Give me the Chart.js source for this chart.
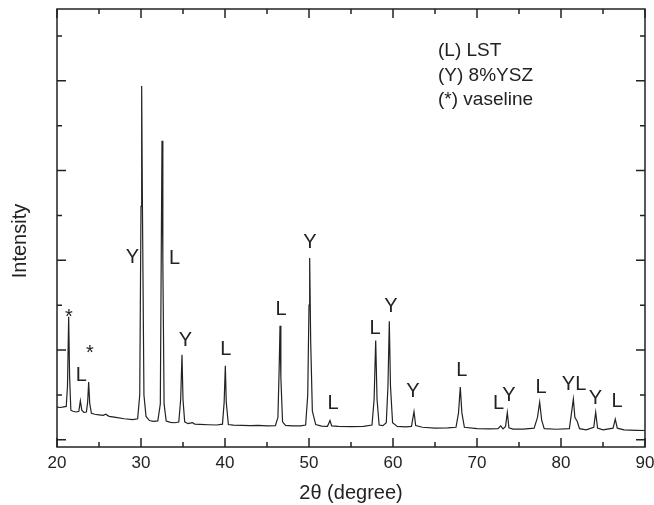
<!DOCTYPE html>
<html>
<head>
<meta charset="utf-8">
<script src="https://cdn.jsdelivr.net/npm/chart.js@4.4.1/dist/chart.umd.min.js"></script>
<style>
  html, body { margin: 0; padding: 0; background: #fff; }
  .xrd-chart { position: relative; width: 654px; height: 505px; }
</style>
</head>
<body>
<div class="xrd-chart"><canvas id="xrd"></canvas></div>
<script>
// XRD pattern, 2theta in degrees, intensity in arbitrary counts
const twoTheta = [
  20.0, 20.4, 20.8, 21.1, 21.25, 21.39, 21.5, 21.65, 21.9, 22.3, 22.6, 22.78, 22.95, 23.2, 23.5, 23.65, 23.77, 23.9,
  24.1, 24.5, 25.0, 25.5, 25.8, 26.2, 27.0, 28.0, 29.0, 29.6, 29.85, 30.0, 30.08, 30.17, 30.35, 30.6, 31.0, 31.5,
  32.0, 32.3, 32.42, 32.5, 32.6, 32.75, 33.0, 33.5, 34.0, 34.5, 34.72, 34.88, 35.0, 35.2, 35.6, 36.1, 36.4, 37.0,
  38.0, 39.0, 39.7, 39.9, 40.04, 40.15, 40.4, 41.0, 42.0, 43.0, 44.0, 45.0, 46.0, 46.3, 46.45, 46.55, 46.65, 46.85,
  47.2, 48.0, 49.0, 49.6, 49.85, 50.0, 50.08, 50.2, 50.4, 50.8, 51.5, 52.2, 52.5, 52.7, 53.5, 55.0, 56.5, 57.5,
  57.75, 57.94, 58.1, 58.35, 58.8, 59.2, 59.4, 59.56, 59.7, 59.95, 60.5, 61.5, 62.2, 62.5, 62.7, 63.5, 65.0, 66.5,
  67.5, 67.8, 68.01, 68.2, 68.5, 70.0, 71.5, 72.5, 72.82, 73.1, 73.4, 73.61, 73.8, 74.3, 75.5, 76.8, 77.2, 77.46,
  77.7, 78.0, 79.5, 81.0, 81.25, 81.47, 81.65, 81.94, 82.2, 83.0, 83.9, 84.13, 84.35, 85.0, 86.2, 86.46, 86.7,
  87.5, 89.0, 90.0
];
const intensity = [
  365, 360, 368, 372, 600, 1370, 700, 330, 318, 310, 318, 434, 330, 305, 310, 420, 643, 400,
  295, 285, 278, 272, 285, 262, 250, 235, 225, 235, 500, 2600, 3943, 2600, 500, 260, 215, 205,
  210, 400, 2200, 3331, 2000, 400, 210, 195, 190, 198, 450, 947, 450, 200, 180, 192, 175, 172,
  168, 165, 175, 420, 824, 420, 170, 163, 160, 158, 162, 155, 158, 250, 800, 1270, 700, 200,
  160, 156, 155, 165, 500, 1500, 2027, 1100, 320, 170, 152, 150, 215, 155, 150, 148, 150, 165,
  450, 1106, 450, 165, 158, 190, 600, 1322, 600, 190, 150, 145, 150, 315, 160, 140, 130, 132,
  140, 300, 587, 300, 140, 125, 123, 125, 156, 122, 150, 304, 135, 120, 120, 130, 250, 420,
  220, 125, 118, 125, 300, 453, 250, 204, 125, 112, 140, 308, 130, 112, 130, 230, 130,
  110, 106, 104
];

// phase marks above the peaks: text, 2theta, intensity at the text baseline
const markText  = ['*', 'L', '*', 'Y', 'L', 'Y', 'L', 'L', 'Y', 'L', 'L', 'Y', 'Y', 'L', 'L', 'Y', 'L', 'YL', 'Y', 'L'];
const markTheta = [21.43, 22.89, 23.93, 28.99, 33.99, 35.30, 40.10, 46.67, 50.12, 52.86, 57.86, 59.76, 62.38, 68.18, 72.56, 73.81, 77.62, 81.55, 84.11, 86.67];
const markLevel = [1296, 660, 902, 1971, 1960, 1047, 947, 1392, 2138, 340, 1177, 1420, 482, 713, 342, 438, 520, 557, 401, 367];

const keyLines = ['(L) LST', '(Y) 8%YSZ', '(*) vaseline'];

const xTicks = [20, 25, 30, 35, 40, 45, 50, 55, 60, 65, 70, 75, 80, 85, 90];
const yTicks = [0, 500, 1000, 1500, 2000, 2500, 3000, 3500, 4000, 4500];

const fontFamily = '"Liberation Sans", Arial, Helvetica, sans-serif';
const ink = '#222';

const points = twoTheta.map((t, i) => ({ x: t, y: intensity[i] }));

// frame with inward ticks on all four sides, like the original plot
const frameTicks = {
  id: 'frameTicks',
  afterDatasetsDraw(chart) {
    const { ctx, chartArea: a, scales: { x, y } } = chart;
    ctx.save();
    ctx.strokeStyle = ink;
    ctx.lineWidth = 1.5;
    ctx.strokeRect(a.left, a.top, a.right - a.left, a.bottom - a.top);
    ctx.beginPath();
    xTicks.forEach(v => {
      const px = x.getPixelForValue(v);
      const len = v % 10 === 0 ? 9 : 5;
      ctx.moveTo(px, a.bottom); ctx.lineTo(px, a.bottom - len);
      ctx.moveTo(px, a.top); ctx.lineTo(px, a.top + len);
    });
    yTicks.forEach(v => {
      const py = y.getPixelForValue(v);
      const len = v % 1000 === 0 ? 9 : 5;
      ctx.moveTo(a.left, py); ctx.lineTo(a.left + len, py);
      ctx.moveTo(a.right, py); ctx.lineTo(a.right - len, py);
    });
    ctx.stroke();
    ctx.restore();
  }
};

// peak marks, the phase key and the y title
const annotations = {
  id: 'annotations',
  afterDraw(chart) {
    const { ctx, chartArea: a, scales: { x, y } } = chart;
    ctx.save();
    ctx.fillStyle = ink;
    ctx.textBaseline = 'alphabetic';

    ctx.font = '20px ' + fontFamily;
    ctx.textAlign = 'center';
    markText.forEach((txt, i) => {
      ctx.fillText(txt, x.getPixelForValue(markTheta[i]), y.getPixelForValue(markLevel[i]));
    });

    ctx.font = '19px ' + fontFamily;
    ctx.textAlign = 'left';
    keyLines.forEach((txt, i) => {
      ctx.fillText(txt, a.left + 381, a.top + 47 + i * 24.5);
    });

    ctx.font = '20px ' + fontFamily;
    ctx.textAlign = 'center';
    ctx.textBaseline = 'middle';
    ctx.translate(20.5, (a.top + a.bottom) / 2 + 13);
    ctx.rotate(-Math.PI / 2);
    ctx.fillText('Intensity', 0, 0);
    ctx.restore();
  }
};

const canvas = document.getElementById('xrd');

new Chart(canvas, {
  type: 'scatter',
  data: {
    datasets: [
      {
        label: 'XRD',
        data: points,
        showLine: true,
        borderColor: ink,
        borderWidth: 1.2,
        pointRadius: 0,
        tension: 0,
      },
    ],
  },
  options: {
    responsive: true,
    maintainAspectRatio: false,
    animation: false,
    layout: { padding: { top: 9, right: 9, left: 0, bottom: 0 } },
    plugins: {
      legend: { display: false },
      tooltip: { enabled: false },
    },
    scales: {
      x: {
        type: 'linear',
        position: 'bottom',
        min: 20,
        max: 90,
        grid: { display: false, drawTicks: false },
        border: { display: false },
        ticks: {
          stepSize: 5,
          autoSkip: false,
          maxRotation: 0,
          padding: 6,
          color: ink,
          font: { size: 17, family: fontFamily },
          callback: v => (v % 10 === 0 ? v : ''),
        },
        title: {
          display: true,
          text: '2θ (degree)',
          color: ink,
          font: { size: 20, family: fontFamily },
          padding: { top: 0, bottom: 0 },
        },
        afterFit: s => {
          s.height = 58;
          // let the end labels hang over the margins instead of shrinking the plot
          s.paddingLeft = 0;
          s.paddingRight = 0;
        },
      },
      y: {
        type: 'linear',
        min: -80,
        max: 4800,
        grid: { display: false, drawTicks: false },
        border: { display: false },
        ticks: { display: false },
        afterFit: s => { s.width = 57; },
      },
    },
  },
  plugins: [frameTicks, annotations],
});
</script>
</body>
</html>
